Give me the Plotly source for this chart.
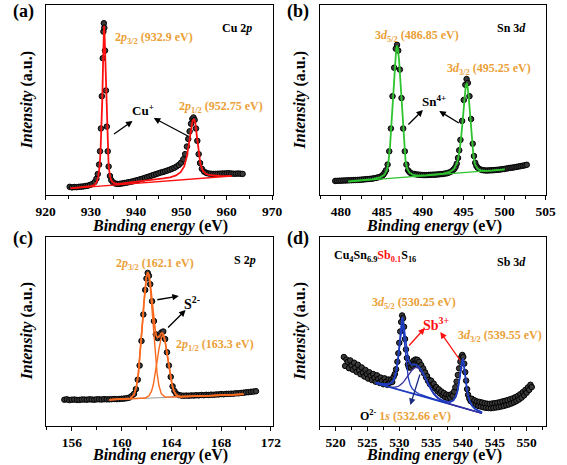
import plotly.graph_objects as go

FONT = "Liberation Serif, Times New Roman, serif"
ORANGE = "#EBA037"
RED = "#FF1010"
GREEN = "#2EC42E"
ORANGE_FIT = "#FA6A1E"
BLUE = "#1E3CC0"
GREY = "#9A9A9A"

# ---------------- (a) Cu 2p ----------------
a_x = [925.3, 925.8, 926.3, 926.8, 927.3, 927.8, 928.3, 928.8, 929.3, 929.8, 930.3, 930.8,
       931.2, 931.5, 931.8, 932.0, 932.2, 932.4, 932.6, 932.75, 932.85, 932.95,
       933.1, 933.3, 933.5, 933.7, 933.9, 934.2, 934.5, 934.9,
       935.4, 935.9, 936.4, 936.9, 937.4, 937.9, 938.4, 938.9, 939.4, 939.9,
       940.4, 940.9, 941.4, 941.9, 942.4, 942.9, 943.4, 943.9, 944.4, 944.9,
       945.4, 945.9, 946.4, 946.9, 947.4, 947.9, 948.4, 948.9, 949.4, 949.9,
       950.4, 950.8, 951.2, 951.5, 951.8, 952.1, 952.4, 952.65, 952.9, 953.2, 953.5, 953.8,
       954.1, 954.5, 955.0, 955.5, 956.0, 956.5, 957.0, 957.5, 958.0, 958.5, 959.0, 959.5,
       960.0, 960.5, 961.0, 961.5, 962.0, 962.5, 963.0, 963.5]
a_y = [4.3, 4.0, 4.2, 4.1, 4.3, 4.4, 4.5, 4.7, 4.9, 5.3, 5.8, 6.8,
       8.5, 11.0, 16.0, 23.0, 35.0, 52.0, 72.0, 86.0, 90.4, 88.0,
       76.0, 55.0, 36.0, 23.0, 15.0, 10.0, 7.8, 6.6,
       6.0, 5.8, 5.9, 6.1, 6.3, 6.5, 6.8, 7.0, 7.3, 7.6,
       7.9, 8.3, 8.6, 9.0, 9.4, 9.8, 10.2, 10.6, 11.0, 11.4,
       11.8, 12.1, 12.5, 12.9, 13.3, 13.8, 14.3, 15.0, 15.8, 17.0,
       18.8, 21.5, 25.5, 29.5, 33.5, 37.5, 40.0, 40.8, 39.5, 35.0, 28.5, 21.5,
       16.8, 13.8, 12.3, 11.6, 11.3, 11.2, 11.1, 11.1, 11.2, 11.2, 11.3, 11.3,
       11.4, 11.4, 11.3, 11.2, 11.2, 11.3, 11.2, 11.1]
a_fit_x = [925.5, 927.0, 928.5, 929.5, 930.3, 930.9, 931.3, 931.6, 931.9, 932.1, 932.3, 932.5,
           932.7, 932.8, 932.9, 933.0, 933.1, 933.3, 933.5, 933.7, 933.9, 934.2, 934.5, 935.0,
           935.8, 937.0, 938.5, 940.0, 942.0, 944.0, 946.0, 947.5, 948.8, 949.8, 950.6, 951.2,
           951.7, 952.1, 952.45, 952.75, 953.05, 953.4, 953.8, 954.2, 954.7, 955.3, 956.0, 957.0,
           958.5, 960.0, 961.0]
a_fit_y = [3.5, 3.8, 4.1, 4.4, 4.8, 5.5, 7.0, 9.5, 15.0, 22.0, 33.0, 50.0,
           72.0, 82.0, 89.0, 85.0, 76.0, 56.0, 37.0, 24.0, 15.5, 10.0, 7.6, 6.3,
           5.9, 6.1, 6.5, 7.0, 7.6, 8.1, 8.7, 9.3, 10.3, 12.0, 15.0, 20.5,
           28.0, 35.0, 39.0, 40.0, 38.0, 31.0, 22.0, 16.0, 12.8, 11.3, 10.6, 10.2,
           10.0, 9.9, 10.0]
a_bg_x = [925.5, 961.1]
a_bg_y = [3.5, 10.0]

# ---------------- (b) Sn 3d ----------------
b_x = [479.3, 479.55, 479.8, 480.05, 480.3, 480.55, 480.8, 481.05, 481.3, 481.55, 481.8, 482.05,
       482.3, 482.55, 482.8, 483.05, 483.3, 483.55, 483.8, 484.05, 484.3, 484.55, 484.8,
       485.05, 485.2, 485.35, 485.5, 485.7, 485.9, 486.1, 486.3, 486.5, 486.7, 486.85,
       487.0, 487.2, 487.4, 487.6, 487.8, 488.0, 488.2, 488.35,
       488.5, 488.75, 489.0, 489.25, 489.5, 489.75, 490.0, 490.25, 490.5, 490.75, 491.0,
       491.25, 491.5, 491.75, 492.0, 492.25, 492.5, 492.75, 493.0, 493.25, 493.5,
       493.7, 493.85, 494.0, 494.15, 494.3, 494.45, 494.6, 494.8, 495.0, 495.2, 495.35,
       495.5, 495.7, 495.9, 496.1, 496.25, 496.4, 496.55,
       496.7, 496.95, 497.2, 497.45, 497.7, 497.95, 498.2, 498.45, 498.7, 498.95, 499.2,
       499.45, 499.7, 499.95, 500.2, 500.45, 500.7, 500.95, 501.2, 501.45, 501.7, 501.95,
       502.2, 502.45, 502.7]
b_y = [7.4, 7.45, 7.5, 7.55, 7.6, 7.65, 7.7, 7.75, 7.8, 7.85, 7.9, 7.95,
       8.0, 8.1, 8.2, 8.3, 8.4, 8.5, 8.6, 8.8, 9.0, 9.3, 9.6,
       10.3, 10.8, 11.8, 13.0, 16.0, 23.0, 35.0, 52.0, 67.0, 77.0, 79.0,
       76.0, 66.0, 51.0, 35.0, 23.0, 16.0, 13.0, 12.2,
       11.6, 11.2, 11.0, 10.8, 10.7, 10.6, 10.5, 10.5, 10.5, 10.6, 10.6,
       10.7, 10.7, 10.8, 10.9, 11.0, 11.1, 11.3, 11.5, 11.9, 12.4,
       13.1, 13.8, 14.8, 16.5, 19.5, 23.5, 29.0, 39.0, 50.0, 58.0, 61.0,
       59.0, 52.0, 40.0, 27.0, 20.5, 17.0, 15.3,
       14.4, 13.6, 13.2, 13.0, 12.9, 12.9, 13.0, 13.0, 13.1, 13.2, 13.3,
       13.4, 13.6, 13.7, 13.9, 14.1, 14.3, 14.4, 14.6, 14.8, 15.0, 15.2,
       15.4, 15.6, 15.9]
b_fit_x = [480.9, 482.5, 483.8, 484.8, 485.3, 485.6, 485.8, 486.0, 486.2, 486.4,
           486.6, 486.75, 486.85, 486.95, 487.1, 487.3, 487.5, 487.7, 487.9, 488.1,
           488.4, 488.8, 489.5, 490.5, 491.5, 492.5, 493.3, 493.8, 494.2, 494.5,
           494.7, 494.9, 495.1, 495.25, 495.35, 495.45, 495.6, 495.8, 496.0, 496.2,
           496.4, 496.7, 497.1, 497.7, 498.5, 499.3, 500.0]
b_fit_y = [7.1, 7.8, 8.4, 9.3, 10.6, 13.0, 17.0, 26.0, 40.0, 57.0,
           71.0, 77.0, 78.5, 77.0, 71.0, 57.0, 40.0, 26.0, 17.5, 13.8,
           11.6, 10.6, 10.2, 10.4, 10.8, 11.3, 12.2, 13.6, 17.0, 23.5,
           31.0, 42.0, 52.0, 57.5, 59.0, 57.5, 52.0, 41.0, 29.0, 20.0,
           16.0, 13.8, 13.0, 12.7, 12.8, 13.1, 13.5]
b_bg_x = [480.9, 500.0]
b_bg_y = [7.0, 13.5]

# ---------------- (c) S 2p ----------------
c_x = [155.4, 155.6, 155.8, 156.0, 156.2, 156.4, 156.6, 156.8, 157.0, 157.2, 157.4, 157.6,
       157.8, 158.0, 158.2, 158.4, 158.6, 158.8, 159.0, 159.2, 159.4, 159.6, 159.8, 160.0, 160.2,
       160.4, 160.6, 160.8, 161.0, 161.15, 161.3, 161.45, 161.6, 161.75, 161.9,
       162.0, 162.1, 162.2, 162.3, 162.45, 162.6, 162.75, 162.9, 163.05, 163.2, 163.35, 163.5,
       163.65, 163.8, 163.95, 164.1, 164.25, 164.4, 164.6, 164.8,
       165.0, 165.2, 165.4, 165.6, 165.8, 166.0, 166.2, 166.4, 166.6, 166.8, 167.0, 167.2,
       167.4, 167.6, 167.8, 168.0, 168.2, 168.4, 168.6, 168.8, 169.0, 169.2, 169.4, 169.6,
       169.8, 170.0, 170.2, 170.4, 170.6, 170.8]
c_y = [13.9, 14.1, 13.7, 13.9, 14.0, 13.8, 13.8, 14.0, 14.0, 13.9, 14.1, 14.0,
       13.9, 14.1, 14.1, 14.0, 14.2, 14.1, 14.1, 14.2, 14.3, 14.2, 14.3, 14.4, 14.5,
       14.7, 15.0, 15.8, 17.0, 19.5, 24.5, 32.0, 45.0, 59.0, 72.0,
       78.0, 81.0, 79.5, 75.0, 66.0, 55.5, 48.5, 46.5, 47.5, 49.5, 50.0, 46.0,
       39.0, 32.0, 26.0, 21.0, 18.5, 17.0, 16.4, 16.1,
       16.0, 16.1, 16.0, 16.2, 16.1, 16.3, 16.2, 16.4, 16.3, 16.5, 16.4, 16.6,
       16.5, 16.7, 16.7, 16.9, 16.8, 17.0, 17.0, 17.1, 17.1, 17.3, 17.3, 17.5,
       17.6, 17.8, 17.9, 18.1, 18.2, 18.4]
c_env_x = [159.0, 160.0, 160.7, 161.0, 161.2, 161.35, 161.5, 161.6, 161.7, 161.8,
           161.9, 162.0, 162.1, 162.2, 162.3, 162.4, 162.5, 162.6, 162.7, 162.8,
           162.9, 163.0, 163.1, 163.2, 163.3, 163.4, 163.5, 163.6, 163.7, 163.8,
           163.9, 164.05, 164.2, 164.4, 164.7, 165.5, 167.0, 169.8]
c_env_y = [13.9, 14.2, 14.6, 16.6, 21.1, 27.8, 38.2, 46.9, 56.3, 65.6,
           73.6, 79.3, 81.4, 80.0, 75.7, 69.3, 62.0, 55.7, 50.7, 47.6,
           46.8, 47.2, 48.3, 49.1, 49.1, 47.7, 44.8, 40.8, 36.3, 31.6,
           27.3, 22.0, 18.6, 16.4, 15.5, 15.6, 16.0, 16.8]
c_p1_x = [159.0, 160.0, 160.7, 161.0, 161.2, 161.35, 161.5, 161.6, 161.7, 161.8,
          161.9, 162.0, 162.1, 162.2, 162.3, 162.4, 162.5, 162.6, 162.7, 162.85,
          163.0, 163.2, 163.5, 164.0, 165.0, 167.0, 169.8]
c_p1_y = [13.9, 14.2, 14.6, 16.6, 21.1, 27.8, 38.2, 46.9, 56.3, 65.6,
          73.6, 78.8, 80.7, 78.8, 73.7, 65.8, 56.5, 47.2, 38.5, 28.1,
          21.4, 17.0, 15.3, 15.3, 15.6, 16.0, 16.8]
c_p2_x = [159.0, 161.5, 161.9, 162.2, 162.4, 162.55, 162.7, 162.8, 162.9, 163.0,
          163.1, 163.2, 163.3, 163.4, 163.5, 163.6, 163.7, 163.8, 163.9, 164.05,
          164.2, 164.4, 164.7, 165.5, 167.0, 169.8]
c_p2_y = [13.9, 14.6, 14.8, 16.0, 18.3, 21.8, 27.1, 31.5, 36.2, 40.7,
          44.5, 47.1, 48.0, 47.1, 44.6, 40.8, 36.3, 31.6, 27.3, 22.0,
          18.6, 16.4, 15.5, 15.6, 16.0, 16.8]
c_bg_x = [159.0, 169.8]
c_bg_y = [13.9, 16.8]

# ---------------- (d) Sb 3d ----------------
d_x = [521.3, 521.5, 521.7, 521.9, 522.1, 522.3, 522.5, 522.7, 522.9, 523.1,
       523.3, 523.5, 523.7, 523.9, 524.1, 524.3, 524.5, 524.7, 524.9, 525.1,
       525.3, 525.5, 525.7, 525.9, 526.1, 526.3, 526.5, 526.7, 526.9, 527.1,
       527.3, 527.5, 527.7, 527.9, 528.1, 528.3, 528.5, 528.7, 528.9, 529.1,
       529.3, 529.5, 529.7,
       529.85, 530.0, 530.15, 530.3, 530.45, 530.6, 530.75, 530.9, 531.05, 531.2,
       531.35, 531.5, 531.65, 531.8, 531.95, 532.1, 532.25, 532.4, 532.55, 532.7,
       532.85, 533.0, 533.15, 533.3, 533.45, 533.6, 533.75, 533.9, 534.05, 534.2,
       534.35, 534.5, 534.65, 534.8,
       535.0, 535.2, 535.4, 535.6, 535.8, 536.0, 536.2, 536.4, 536.6, 536.8,
       537.0, 537.2, 537.4, 537.6, 537.8, 538.0, 538.2, 538.4, 538.6, 538.8,
       539.0, 539.2, 539.4, 539.6,
       539.75, 539.9, 540.05, 540.2, 540.35, 540.5, 540.65, 540.8,
       541.0, 541.2, 541.4, 541.6, 541.8, 542.0, 542.2, 542.4, 542.6, 542.8,
       543.0, 543.2, 543.4, 543.6, 543.8, 544.0, 544.2, 544.4, 544.6, 544.8,
       545.0, 545.2, 545.4, 545.6, 545.8, 546.0, 546.2, 546.4, 546.6, 546.8,
       547.0, 547.2, 547.4, 547.6, 547.8, 548.0, 548.2, 548.4, 548.6, 548.8,
       549.0, 549.2, 549.4, 549.6, 549.8, 550.0, 550.2, 550.4, 550.6, 550.8]
d_y = [36.5, 31.8, 35.2, 33.9, 30.6, 34.7, 32.0, 29.8, 33.5, 30.9,
       28.6, 32.4, 29.5, 27.4, 31.0, 28.3, 26.2, 29.6, 27.5, 25.1,
       28.4, 26.6, 24.3, 27.5, 25.4, 23.4, 26.8, 24.9, 22.8, 25.6,
       23.9, 22.1, 25.2, 23.4, 21.8, 24.6, 22.9, 24.5, 23.3, 26.0,
       27.5, 30.0, 34.0,
       38.5, 44.0, 50.0, 55.0, 58.5, 57.0, 52.5, 46.0, 40.5, 36.0,
       32.5, 31.0, 32.6, 30.9, 33.6, 32.0, 34.6, 33.0, 35.2, 33.4,
       35.0, 32.8, 34.0, 31.5, 32.2, 29.8, 30.4, 27.8, 28.4, 25.8,
       26.4, 23.9, 24.5, 22.2,
       24.0, 21.6, 22.4, 20.0, 20.6, 18.4, 19.4, 17.2, 18.3, 16.2,
       17.4, 15.3, 16.6, 14.8, 16.4, 15.0, 16.8, 16.0, 18.2, 20.5,
       23.5, 27.0, 30.5, 34.0,
       36.5, 37.6, 36.5, 33.0, 28.5, 24.0, 19.5, 16.5,
       14.6, 13.2, 14.4, 12.1, 13.6, 11.2, 13.0, 10.6, 12.7, 10.3,
       12.4, 9.9, 12.0, 9.6, 11.8, 9.5, 11.7, 9.4, 11.9, 9.6,
       12.1, 9.8, 12.3, 10.0, 12.6, 10.3, 13.0, 10.6, 13.3, 11.0,
       13.7, 11.4, 14.1, 11.9, 14.6, 12.5, 15.2, 13.2, 15.9, 14.0,
       16.8, 15.0, 17.9, 16.2, 19.1, 17.6, 20.4, 19.1, 21.8, 20.6]
d_fit_x = [526.3, 527.0, 527.7, 528.3, 528.8, 529.2, 529.5, 529.8, 530.0, 530.2,
           530.35, 530.45, 530.55, 530.7, 530.9, 531.1, 531.4, 531.7, 532.0, 532.4,
           532.7, 533.0, 533.4, 533.8, 534.3, 534.8, 535.4, 536.0, 536.7, 537.4,
           538.0, 538.5, 538.9, 539.2, 539.5, 539.7, 539.85, 539.95, 540.05, 540.2,
           540.4, 540.7, 541.0, 541.4, 541.9, 542.5, 543.0]
d_env_y = [23.03, 22.51, 22.16, 22.2, 22.98, 25.11, 28.74, 35.71, 42.69, 51.2,
           56.16, 57.62, 56.84, 52.89, 45.73, 40.07, 34.96, 32.96, 32.46, 32.55,
           32.31, 31.63, 29.97, 27.58, 24.03, 20.61, 17.32, 15.15, 13.66, 12.96,
           12.79, 13.58, 15.69, 19.21, 25.92, 31.73, 34.99, 35.7, 34.8, 31.26,
           25.07, 17.77, 13.69, 10.8, 9.02, 7.95, 7.22]
d_sb1_y = [22.98, 22.45, 22.07, 22.02, 22.59, 24.38, 27.59, 33.93, 40.37, 48.22,
           52.61, 53.65, 52.42, 47.74, 39.51, 32.69, 25.78, 22.0, 19.91, 18.49,
           17.74, 17.17, 16.55, 16.03, 15.41, 14.84, 14.2, 13.58, 12.87, 12.17,
           11.57, 11.08, 10.69, 10.41, 10.12, 9.93, 9.79, 9.7, 9.6, 9.46,
           9.27, 8.97, 8.69, 8.3, 7.82, 7.25, 6.77]
d_o1s_y = [22.6, 21.94, 21.3, 20.82, 20.54, 20.5, 20.63, 20.97, 21.32, 21.79,
           22.21, 22.54, 22.89, 23.48, 24.36, 25.32, 26.83, 28.33, 29.62, 30.75,
           30.98, 30.58, 29.15, 26.89, 23.46, 20.11, 16.84, 14.64, 13.09, 12.12,
           11.48, 10.99, 10.6, 10.32, 10.03, 9.84, 9.7, 9.61, 9.51, 9.37,
           9.18, 8.89, 8.61, 8.22, 7.75, 7.18, 6.7]
d_sb2_y = [22.65, 21.98, 21.33, 20.76, 20.29, 19.91, 19.62, 19.35, 19.16, 18.97,
           18.82, 18.73, 18.63, 18.49, 18.3, 18.12, 17.83, 17.55, 17.27, 16.89,
           16.61, 16.32, 15.95, 15.58, 15.12, 14.68, 14.16, 13.67, 13.1, 12.73,
           12.66, 13.49, 15.6, 19.12, 25.83, 31.64, 34.9, 35.61, 34.71, 31.17,
           24.98, 17.69, 13.61, 10.72, 8.95, 7.88, 7.15]
d_bg_x = [526.3, 543.0]
d_bg_y = [22.6, 6.7]

# axis settings per panel
x_ranges = [[920, 970.3], [477.4, 505.1], [153.9, 172.2], [517.5, 553.1]]
x_dticks = [10, 5, 4, 5]
x_tick0 = [920, 480, 156, 520]
x_minor = [5, 2.5, 2, 2.5]

fig = go.Figure()
MARK = dict(symbol="circle", size=5.5, color="#3a3a3a", line=dict(color="#000000", width=1.0))


def exp_trace(x, y, ax):
    fig.add_trace(go.Scatter(x=x, y=y, mode="markers", marker=MARK, xaxis="x" + ax, yaxis="y" + ax,
                             showlegend=False, hoverinfo="skip"))


def line_trace(x, y, ax, color, width=1.6):
    fig.add_trace(go.Scatter(x=x, y=y, mode="lines", line=dict(color=color, width=width),
                             xaxis="x" + ax, yaxis="y" + ax, showlegend=False, hoverinfo="skip"))


exp_trace(a_x, a_y, "")
line_trace(a_bg_x, a_bg_y, "", RED, 1.3)
line_trace(a_fit_x, a_fit_y, "", RED, 1.8)

exp_trace(b_x, b_y, "2")
line_trace(b_bg_x, b_bg_y, "2", GREEN, 1.3)
line_trace(b_fit_x, b_fit_y, "2", GREEN, 1.8)

exp_trace(c_x, c_y, "3")
line_trace(c_bg_x, c_bg_y, "3", GREY, 1.2)
line_trace(c_p1_x, c_p1_y, "3", ORANGE_FIT, 1.4)
line_trace(c_p2_x, c_p2_y, "3", ORANGE_FIT, 1.4)
line_trace(c_env_x, c_env_y, "3", ORANGE_FIT, 1.7)

exp_trace(d_x, d_y, "4")
line_trace(d_bg_x, d_bg_y, "4", BLUE, 1.3)
line_trace(d_fit_x, d_sb1_y, "4", BLUE, 1.3)
line_trace(d_fit_x, d_o1s_y, "4", "#3A2E9A", 1.3)
line_trace(d_fit_x, d_sb2_y, "4", BLUE, 1.3)
line_trace(d_fit_x, d_env_y, "4", BLUE, 1.7)

W, H = 567, 465
xdom = [[37 / W, 273 / W], [321 / W, 556 / W], [37 / W, 273 / W], [321 / W, 556 / W]]
ydom = [[1 - 195 / H, 1 - 5 / H], [1 - 195 / H, 1 - 5 / H], [1 - 426 / H, 1 - 237 / H], [1 - 426 / H, 1 - 237 / H]]

layout = dict(width=W, height=H, margin=dict(l=0, r=0, t=0, b=0),
              paper_bgcolor="white", plot_bgcolor="white", showlegend=False,
              font=dict(family=FONT, color="black"))
for i in range(4):
    suf = "" if i == 0 else str(i + 1)
    layout["xaxis" + suf] = dict(
        domain=xdom[i], anchor="y" + suf, range=x_ranges[i], tick0=x_tick0[i], dtick=x_dticks[i],
        showline=True, linecolor="black", linewidth=1.3, mirror=True, showgrid=False, zeroline=False,
        ticks="outside", ticklen=4, tickwidth=1.3, tickcolor="black",
        minor=dict(ticks="outside", ticklen=2.5, tickwidth=1.2, tickcolor="black",
                   dtick=x_minor[i], tick0=x_tick0[i], showgrid=False),
        tickfont=dict(family=FONT, size=13.5, color="black", weight="bold"))
    layout["yaxis" + suf] = dict(
        domain=ydom[i], anchor="x" + suf, range=[0, 100], showline=True, linecolor="black",
        linewidth=1.3, mirror=True, showgrid=False, zeroline=False, showticklabels=False, ticks="")
fig.update_layout(**layout)


def px(x):
    return x / W


def py(y):
    return 1 - y / H


anns = []


def text(t, x, y, size=12, color="black", xanchor="left", angle=0):
    anns.append(dict(text=t, x=px(x), y=py(y), xref="paper", yref="paper", showarrow=False,
                     xanchor=xanchor, yanchor="middle", textangle=angle,
                     font=dict(family=FONT, size=size, color=color)))


def arrow(hx, hy, tx, ty, color="black"):
    anns.append(dict(text="", x=px(hx), y=py(hy), xref="paper", yref="paper", showarrow=True,
                     axref="pixel", ayref="pixel", ax=tx - hx, ay=ty - hy,
                     arrowhead=2, arrowsize=1.0, arrowwidth=1.3, arrowcolor=color, standoff=0))


text("<b>(a)</b>", 1, 12, 18)
text("<b>(b)</b>", 285, 12, 18)
text("<b>(c)</b>", 1, 238, 18)
text("<b>(d)</b>", 285, 238, 18)

for cx, cy in [(155, 226), (440, 226), (155, 455), (440, 455)]:
    text("<b><i>Binding energy</i> (eV)</b>", cx, cy, 16, xanchor="center")
for cx, cy in [(18, 100), (301, 100), (18, 331), (301, 331)]:
    text("<b><i>Intensity</i> (a.u.)</b>", cx, cy, 16, xanchor="center", angle=-90)

# (a)
text("<b>2<i>p</i><sub>3/2</sub> (932.9 eV)</b>", 107, 38, 12, ORANGE)
text("<b>2<i>p</i><sub>1/2</sub> (952.75 eV)</b>", 173, 107, 12, ORANGE)
text("<b>Cu<sup>+</sup></b>", 138, 110, 13, xanchor="center")
text("<b>Cu 2<i>p</i></b>", 253, 28, 12, xanchor="right")
arrow(127, 121, 107, 135)
arrow(149, 118, 185, 137)

# (b)
text("<b>3<i>d</i><sub>5/2</sub> (486.85 eV)</b>", 376, 36, 12, ORANGE)
text("<b>3<i>d</i><sub>3/2</sub> (495.25 eV)</b>", 451, 69, 12, ORANGE)
text("<b>Sn<sup>4+</sup></b>", 440, 101, 13, xanchor="center")
text("<b>Sn 3<i>d</i></b>", 537, 28, 12, xanchor="right")
arrow(428, 110, 412, 126)
arrow(445, 111, 466, 124)

# (c)
text("<b>2<i>p</i><sub>3/2</sub> (162.1 eV)</b>", 108, 264, 12, ORANGE)
text("<b>2<i>p</i><sub>1/2</sub> (163.3 eV)</b>", 170, 345, 12, ORANGE)
text("<b>S<sup>2-</sup></b>", 189, 303, 14, xanchor="center")
text("<b>S 2<i>p</i></b>", 257, 260, 12, xanchor="right")
arrow(175, 296, 152, 300)
arrow(182, 310, 163, 329)

# (d)
text("<b>Cu<sub>4</sub>Sn<sub>6.9</sub><span style='color:#FF1010'>Sb<sub>0.1</sub></span>S<sub>16</sub></b>",
     334, 256, 12)
text("<b>Sb 3<i>d</i></b>", 537, 262, 12, xanchor="right")
text("<b>3<i>d</i><sub>5/2</sub> (530.25 eV)</b>", 373, 303, 12, ORANGE)
text("<b>Sb<sup>3+</sup></b>", 442, 324, 14, RED, xanchor="center")
text("<b>3<i>d</i><sub>3/2</sub> (539.55 eV)</b>", 462, 336, 12, ORANGE)
text("<b>O<sup>2-</sup> <span style='color:" + ORANGE + "'>1<i>s</i> (532.66 eV)</span></b>", 361, 415, 12)
arrow(430, 328, 413, 347, RED)
arrow(446, 332, 467, 362, RED)
arrow(415, 405, 425, 373, "#1A2A80")

fig.update_layout(annotations=anns)
fig.write_html("out.html", config={"displayModeBar": False},
               post_script="document.body.style.margin='0px';document.body.style.padding='0px';")
